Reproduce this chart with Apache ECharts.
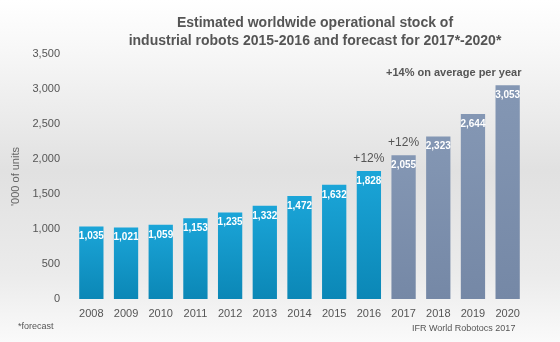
<!DOCTYPE html>
<html><head><meta charset="utf-8">
<script src="https://cdn.jsdelivr.net/npm/echarts@6/dist/echarts.min.js"></script>
<style>html,body{margin:0;padding:0;}#c{width:560px;height:342px;}</style>
</head><body><div id="c"></div>
<script>
const years = ['2008','2009','2010','2011','2012','2013','2014','2015','2016','2017','2018','2019','2020'];
const stock = [1035,1021,1059,1153,1235,1332,1472,1632,1828,2055,2323,2644,3053];
const forecastFrom = '2017';
const growthNotes = [{year:'2016',text:'+12%'},{year:'2017',text:'+12%'}];
const yTicks = [0,500,1000,1500,2000,2500,3000,3500];

const blue = new echarts.graphic.LinearGradient(0,0,0,1,[{offset:0,color:'#1ba5d8'},{offset:1,color:'#0b87b6'}]);
const grey = new echarts.graphic.LinearGradient(0,0,0,1,[{offset:0,color:'#8497b4'},{offset:1,color:'#7588a6'}]);
const fi = years.indexOf(forecastFrom);
const data = stock.map((v,i)=>({value:v,itemStyle:{color: i>=fi?grey:blue}}));

const chart = echarts.init(document.getElementById('c'),null,{renderer:'canvas'});
chart.setOption({
  backgroundColor: new echarts.graphic.LinearGradient(0,0,0,1,[
    {offset:0,color:'#ffffff'},{offset:0.15,color:'#f7f7f7'},{offset:0.5,color:'#e1e1e1'},{offset:0.8,color:'#ebebeb'},{offset:1,color:'#fafafa'}]),
  animation:false,
  title:{
    text:'Estimated worldwide operational stock of\nindustrial robots 2015-2016 and forecast for 2017*-2020*',
    left:310, top:9, textAlign:'center',
    textStyle:{fontFamily:'Liberation Sans, Arial',fontSize:14,fontWeight:'bold',color:'#555',lineHeight:18}
  },
  grid:{left:74,right:35,top:54,bottom:43},
  xAxis:{type:'category',data:years,
    axisLine:{show:false},axisTick:{show:false},
    axisLabel:{color:'#555',fontSize:11,fontFamily:'Liberation Sans, Arial',margin:9}},
  yAxis:{type:'value',min:yTicks[0],max:yTicks[yTicks.length-1],interval:500,
    name:"'000 of units",nameLocation:'middle',nameGap:52,nameRotate:90,
    nameTextStyle:{color:'#666',fontSize:11,fontFamily:'Liberation Sans, Arial'},
    splitLine:{show:false},axisLine:{show:false},axisTick:{show:false},
    axisLabel:{color:'#555',fontSize:11,fontFamily:'Liberation Sans, Arial',margin:14,
      formatter:v=>v.toLocaleString('en-US')}},
  series:[{
    type:'bar',data:data,barWidth:'70%',
    label:{show:true,position:'insideTop',distance:5,color:'#fff',fontWeight:'bold',fontSize:10,
      fontFamily:'Liberation Sans, Arial',formatter:p=>p.value.toLocaleString('en-US')},
    markPoint:{symbol:'circle',symbolSize:1,itemStyle:{color:'rgba(0,0,0,0)'},
      label:{show:true,position:'top',distance:6,color:'#555',fontSize:12,fontFamily:'Liberation Sans, Arial',
        formatter:p=>p.name},
      data:growthNotes.map(g=>({name:g.text,coord:[g.year,stock[years.indexOf(g.year)]]}))}
  }],
  graphic:[
    {type:'text',left:386,top:67,style:{text:'+14% on average per year',fill:'#555',font:'bold 11px Liberation Sans, Arial'}},
    {type:'text',left:18,top:322,style:{text:'*forecast',fill:'#555',font:'9px Liberation Sans, Arial'}},
    {type:'text',left:412,top:324,style:{text:'IFR World Robotocs 2017',fill:'#555',font:'9px Liberation Sans, Arial'}}
  ]
});
</script></body></html>
